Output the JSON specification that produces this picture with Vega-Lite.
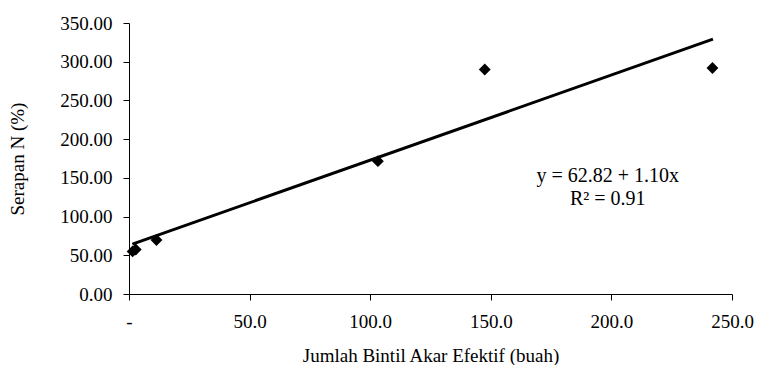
{
  "$schema": "https://vega.github.io/schema/vega-lite/v6.json",
  "width": 603,
  "height": 271,
  "autosize": "none",
  "padding": {"left": 129, "top": 23, "right": 28, "bottom": 71},
  "background": "white",
  "config": {
    "view": {"stroke": null},
    "font": "Liberation Serif"
  },
  "datasets": {
    "points": [
      {"x": 1.5, "y": 55.0},
      {"x": 2.8, "y": 57.5},
      {"x": 11.4, "y": 69.7},
      {"x": 103.2, "y": 171.6},
      {"x": 147.5, "y": 289.9},
      {"x": 241.9, "y": 291.9}
    ],
    "fit": [
      {"x": 1.4, "y": 64.4},
      {"x": 242.1, "y": 329.1}
    ],
    "notes": [
      {"x": 198.5, "y": 144.9, "text": "y = 62.82 + 1.10x"},
      {"x": 198.5, "y": 115.2, "text": "R² = 0.91"}
    ]
  },
  "encoding": {
    "x": {
      "field": "x", "type": "quantitative",
      "scale": {"domain": [0, 250], "nice": false, "zero": false},
      "axis": {
        "title": "Jumlah Bintil Akar Efektif (buah)",
        "values": [0, 50, 100, 150, 200, 250],
        "labelExpr": "datum.value == 0 ? '-' : format(datum.value, '.1f')",
        "grid": false,
        "domainColor": "black", "tickColor": "black", "labelColor": "black", "titleColor": "black",
        "labelFont": "Liberation Serif", "titleFont": "Liberation Serif",
        "labelFontSize": 19, "titleFontSize": 19, "titleFontWeight": "normal",
        "tickSize": 6,
        "labelOverlap": false,
        "labelBaseline": "alphabetic",
        "labelPadding": 27,
        "labelFlush": false,
        "titleBaseline": "alphabetic",
        "titleY": 67,
        "encode": {"labels": {"update": {"dx": {"signal": "datum.value == 0 ? -11 : 0"}}}}
      }
    },
    "y": {
      "field": "y", "type": "quantitative",
      "scale": {"domain": [0, 350], "nice": false},
      "axis": {
        "title": "Serapan N (%)",
        "values": [0, 50, 100, 150, 200, 250, 300, 350],
        "format": ".2f",
        "grid": false,
        "domainColor": "black", "tickColor": "black", "labelColor": "black", "titleColor": "black",
        "labelFont": "Liberation Serif", "titleFont": "Liberation Serif",
        "labelFontSize": 19, "titleFontSize": 19, "titleFontWeight": "normal",
        "tickSize": 6,
        "labelOverlap": false,
        "labelPadding": 11,
        "labelFlush": false,
        "titleX": -112,
        "titleBaseline": "middle"
      }
    }
  },
  "layer": [
    {
      "data": {"name": "fit"},
      "mark": {"type": "line", "color": "black", "strokeWidth": 3}
    },
    {
      "data": {"name": "points"},
      "mark": {"type": "point", "shape": "diamond", "filled": true, "color": "black", "size": 140, "opacity": 1}
    },
    {
      "data": {"name": "notes"},
      "mark": {"type": "text", "font": "Liberation Serif", "fontSize": 20, "color": "black", "align": "center", "baseline": "alphabetic"},
      "encoding": {
        "text": {"field": "text"}
      }
    }
  ]
}
